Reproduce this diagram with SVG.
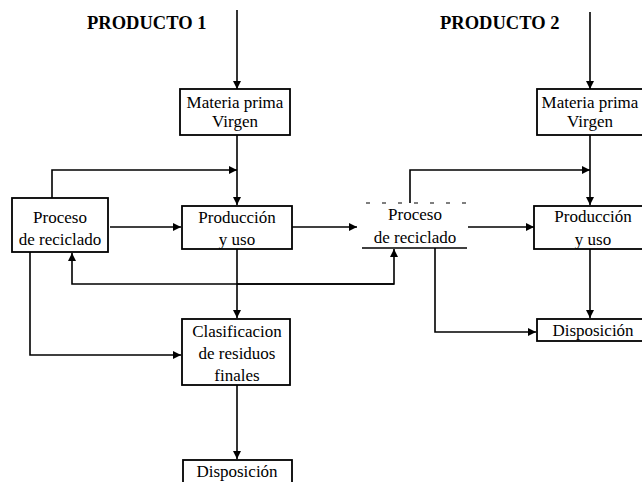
<svg xmlns="http://www.w3.org/2000/svg" width="642" height="482" viewBox="0 0 642 482">
<defs>
<marker id="ah" viewBox="0 0 10 10" refX="10" refY="5" markerWidth="9" markerHeight="8" markerUnits="userSpaceOnUse" orient="auto">
<path d="M0,0 L10,5 L0,10 Z" fill="#000"/>
</marker>
<style>
.box{fill:#fff;stroke:#000;stroke-width:1.8}
.t{font-family:"Liberation Serif","Times New Roman",serif;font-size:17px;fill:#000;text-anchor:middle}
.h{font-family:"Liberation Serif","Times New Roman",serif;font-size:18.5px;font-weight:bold;fill:#000}
.c{fill:none;stroke:#000;stroke-width:1.6}
.a{marker-end:url(#ah)}
</style>
</defs>
<rect width="642" height="482" fill="#fff"/>
<text class="h" x="87" y="29">PRODUCTO 1</text>
<text class="h" x="440" y="29">PRODUCTO 2</text>
<g id="connectors">
<path class="c a" d="M237,10 V89"/>
<path class="c a" d="M237,135 V205"/>
<path class="c a" d="M52,198 V170 H237"/>
<path class="c a" d="M110,227 H181"/>
<path class="c a" d="M292,227 H357"/>
<path class="c a" d="M237,249 V318"/>
<path class="c a" d="M394,284 H72 V253"/>
<path class="c a" d="M237,284 H394 V249"/>
<path class="c a" d="M30,252 V355 H181"/>
<path class="c a" d="M237,385 V459"/>
<path class="c a" d="M590,12 V89"/>
<path class="c a" d="M590,135 V205"/>
<path class="c a" d="M410,203 V170 H590"/>
<path class="c a" d="M468,227 H534"/>
<path class="c a" d="M590,249 V318"/>
<path class="c a" d="M435,248 V332 H536"/>
</g>
<g id="materia1">
<rect class="box" x="180" y="89" width="110" height="46"/>
<text class="t" x="235" y="108">Materia prima</text>
<text class="t" x="235" y="127">Virgen</text>
</g>
<g id="proceso1">
<rect class="box" x="12" y="198" width="96" height="54"/>
<text class="t" x="60" y="223">Proceso</text>
<text class="t" x="60" y="245">de reciclado</text>
</g>
<g id="produccion1">
<rect class="box" x="182" y="206" width="110" height="43"/>
<text class="t" x="237" y="223">Producción</text>
<text class="t" x="237" y="245">y uso</text>
</g>
<g id="clasificacion">
<rect class="box" x="182" y="319" width="108" height="66"/>
<text class="t" x="237" y="337">Clasificacion</text>
<text class="t" x="237" y="359">de residuos</text>
<text class="t" x="237" y="381">finales</text>
</g>
<g id="disposicion1">
<rect class="box" x="183" y="460" width="109" height="40"/>
<text class="t" x="237" y="477">Disposición</text>
</g>
<g id="materia2">
<rect class="box" x="537" y="89" width="110" height="46"/>
<text class="t" x="590" y="108">Materia prima</text>
<text class="t" x="590" y="127">Virgen</text>
</g>
<g id="proceso2">
<line x1="362" y1="248" x2="467" y2="248" stroke="#000" stroke-width="1.6"/>
<line x1="366" y1="203" x2="466" y2="203" stroke="#000" stroke-width="1.2" stroke-dasharray="4 12"/>
<text class="t" x="415" y="220">Proceso</text>
<text class="t" x="415" y="243">de reciclado</text>
</g>
<g id="produccion2">
<rect class="box" x="534" y="206" width="112" height="43"/>
<text class="t" x="593" y="222">Producción</text>
<text class="t" x="593" y="245">y uso</text>
</g>
<g id="disposicion2">
<rect class="box" x="537" y="319" width="110" height="22"/>
<text class="t" x="593" y="336">Disposición</text>
</g>
</svg>
